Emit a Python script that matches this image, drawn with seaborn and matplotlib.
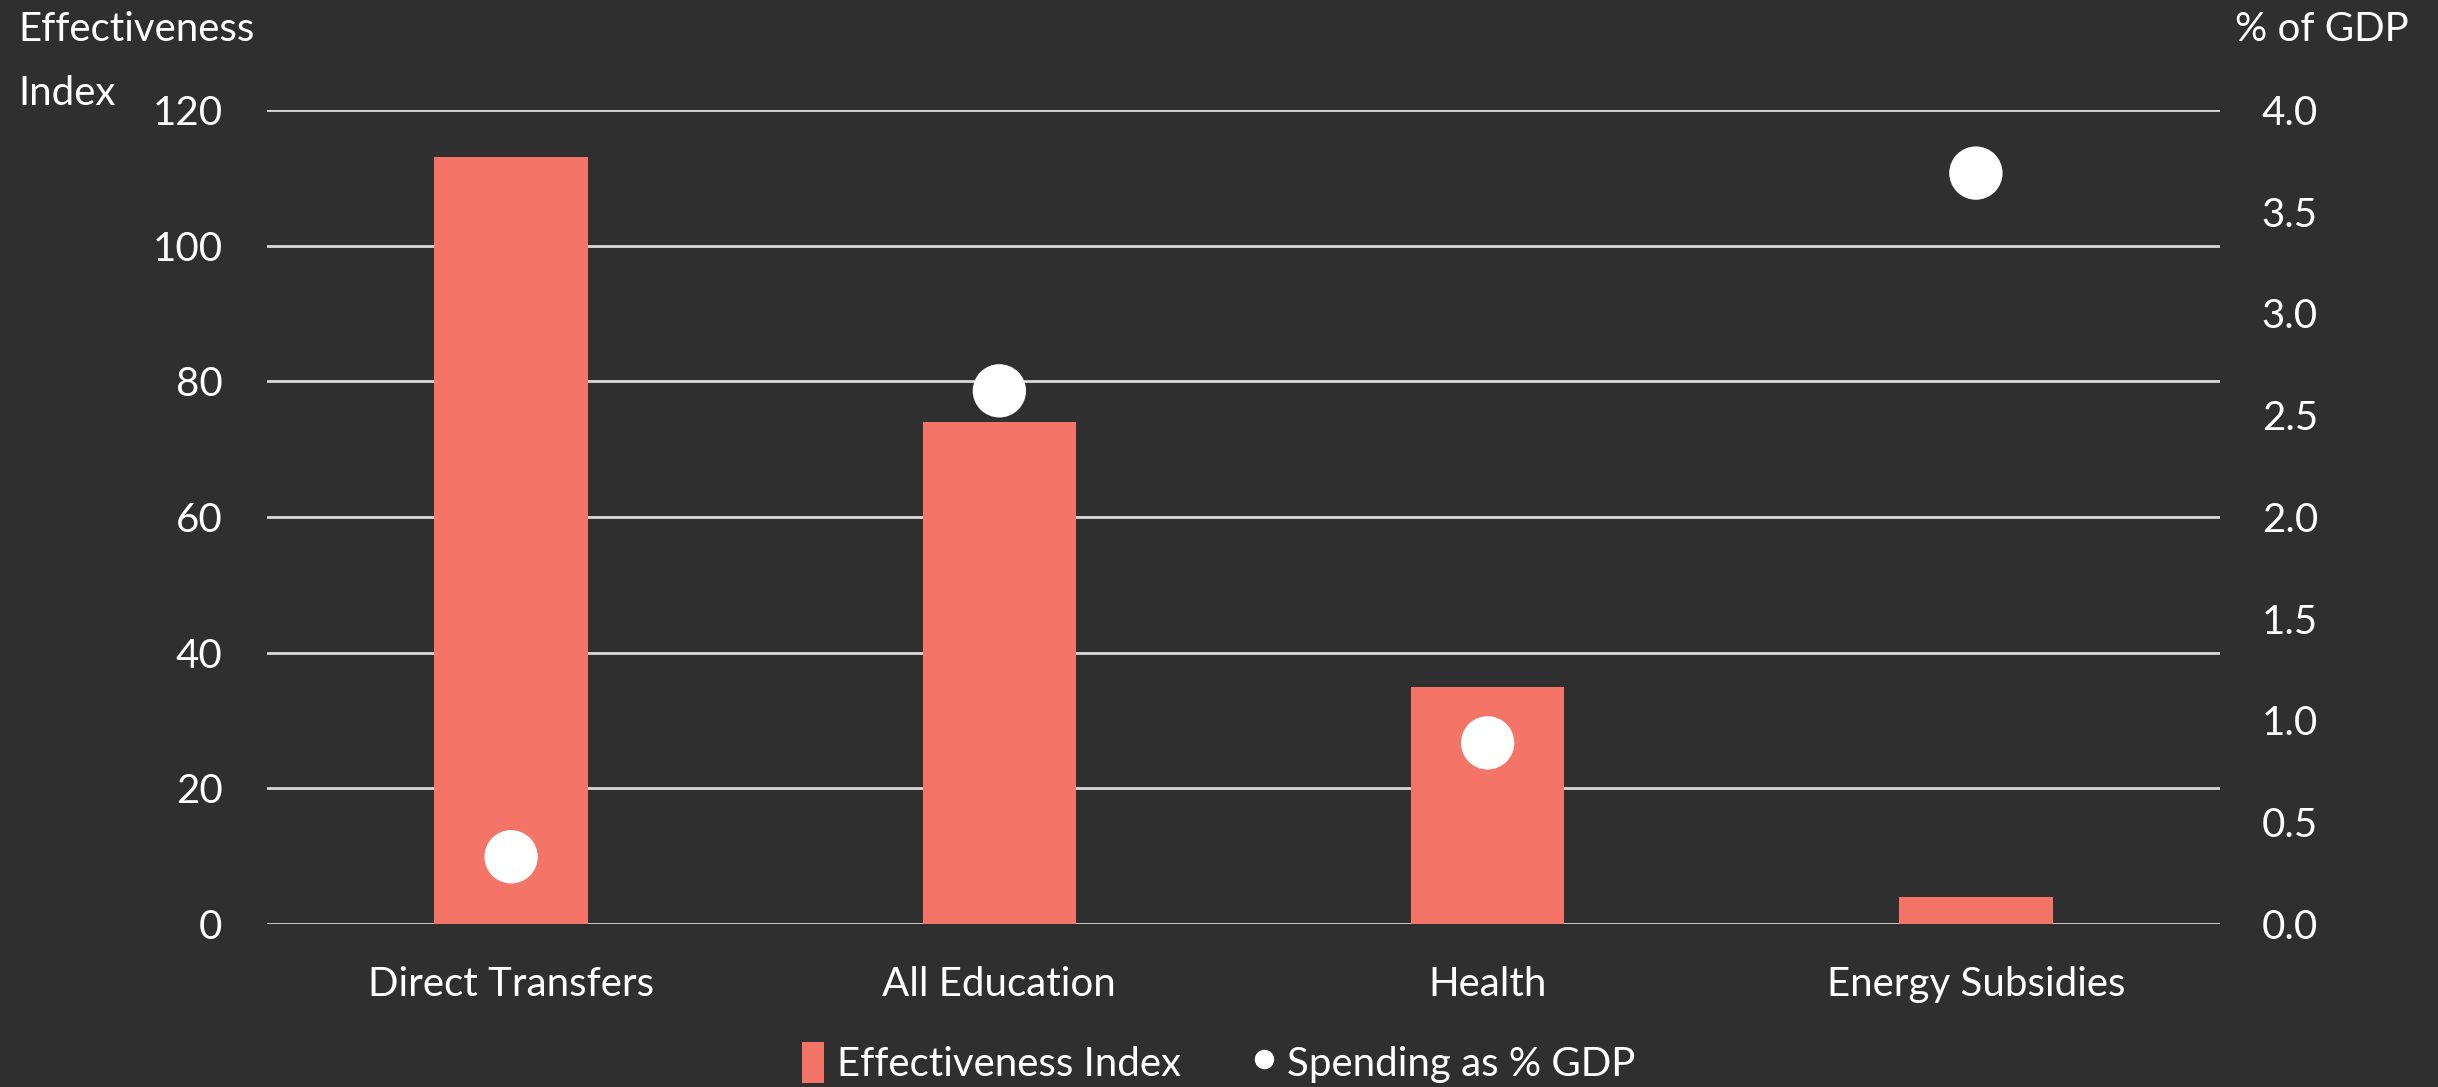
import matplotlib
matplotlib.use("Agg")
import matplotlib.pyplot as plt
from matplotlib.patches import Patch
from matplotlib.lines import Line2D
import seaborn as sns
import pandas as pd

categories = ["Direct Transfers", "All Education", "Health", "Energy Subsidies"]
effectiveness = [113, 74, 35, 4]
spending_pct_gdp = [0.33, 2.62, 0.89, 3.69]
left_ticks = [0, 20, 40, 60, 80, 100, 120]
right_ticks = [0.0, 0.5, 1.0, 1.5, 2.0, 2.5, 3.0, 3.5, 4.0]
left_title_lines = ["Effectiveness", "Index"]
right_title = "% of GDP"

BG = "#2f2f2f"
BAR = "#f47468"
GRID = "#d9d9d9"
TXT = "white"
FS = 29

sns.set_theme(style="white")
plt.rcParams["font.family"] = ["Lato", "DejaVu Sans"]

df = pd.DataFrame({"category": categories,
                   "effectiveness": effectiveness,
                   "spending": spending_pct_gdp})

fig = plt.figure(figsize=(24.38, 10.87), dpi=100, facecolor=BG)
ax = fig.add_axes([0.1095, 0.150, 0.8011, 0.7488])
ax.set_facecolor(BG)

sns.barplot(data=df, x="category", y="effectiveness", ax=ax,
            color=BAR, width=0.314, saturation=1, linewidth=0, zorder=2)
ax.set_xlim(-0.5, 3.5)
ax.set_ylim(0, 120)
ax.set_yticks(left_ticks)
ax.yaxis.grid(True, color=GRID, linewidth=2, zorder=0)
ax.set_axisbelow(True)
for s in ax.spines.values():
    s.set_visible(False)
ax.tick_params(axis="both", length=0, colors=TXT, labelsize=FS)
ax.tick_params(axis="y", pad=32)
ax.tick_params(axis="x", pad=30)
ax.set_xlabel("")
ax.set_ylabel("")

ax2 = ax.twinx()
sns.scatterplot(data=df, x="category", y="spending", ax=ax2,
                s=1475, color="white", edgecolor="none", zorder=3, legend=False)
ax2.set_ylim(0, 4)
ax2.set_yticks(right_ticks)
ax2.set_yticklabels([f"{v:.1f}" for v in right_ticks])
for s in ax2.spines.values():
    s.set_visible(False)
ax2.tick_params(axis="y", length=0, colors=TXT, labelsize=FS, pad=30)
ax2.set_ylabel("")
ax2.set_xlim(-0.5, 3.5)

# Left axis title on two lines, right axis title on one
fig.text(0.0075, 0.99, left_title_lines[0], color=TXT, fontsize=FS,
         ha="left", va="top")
fig.text(0.0075, 0.931, left_title_lines[1], color=TXT, fontsize=FS,
         ha="left", va="top")
fig.text(0.988, 0.99, right_title, color=TXT, fontsize=FS,
         ha="right", va="top")

handles = [Patch(facecolor=BAR, edgecolor="none", label="Effectiveness Index"),
           Line2D([], [], marker="o", linestyle="none", markersize=13,
                  markerfacecolor="white", markeredgecolor="white",
                  label="Spending as % GDP")]
fig.legend(handles=handles, loc="lower center", bbox_to_anchor=(0.5, -0.03),
           ncol=2, frameon=False, fontsize=FS, labelcolor=TXT,
           handlelength=0.55, handleheight=1.2, handletextpad=0.3,
           columnspacing=1.8)

fig.savefig("out.png", dpi=100, facecolor=BG)
